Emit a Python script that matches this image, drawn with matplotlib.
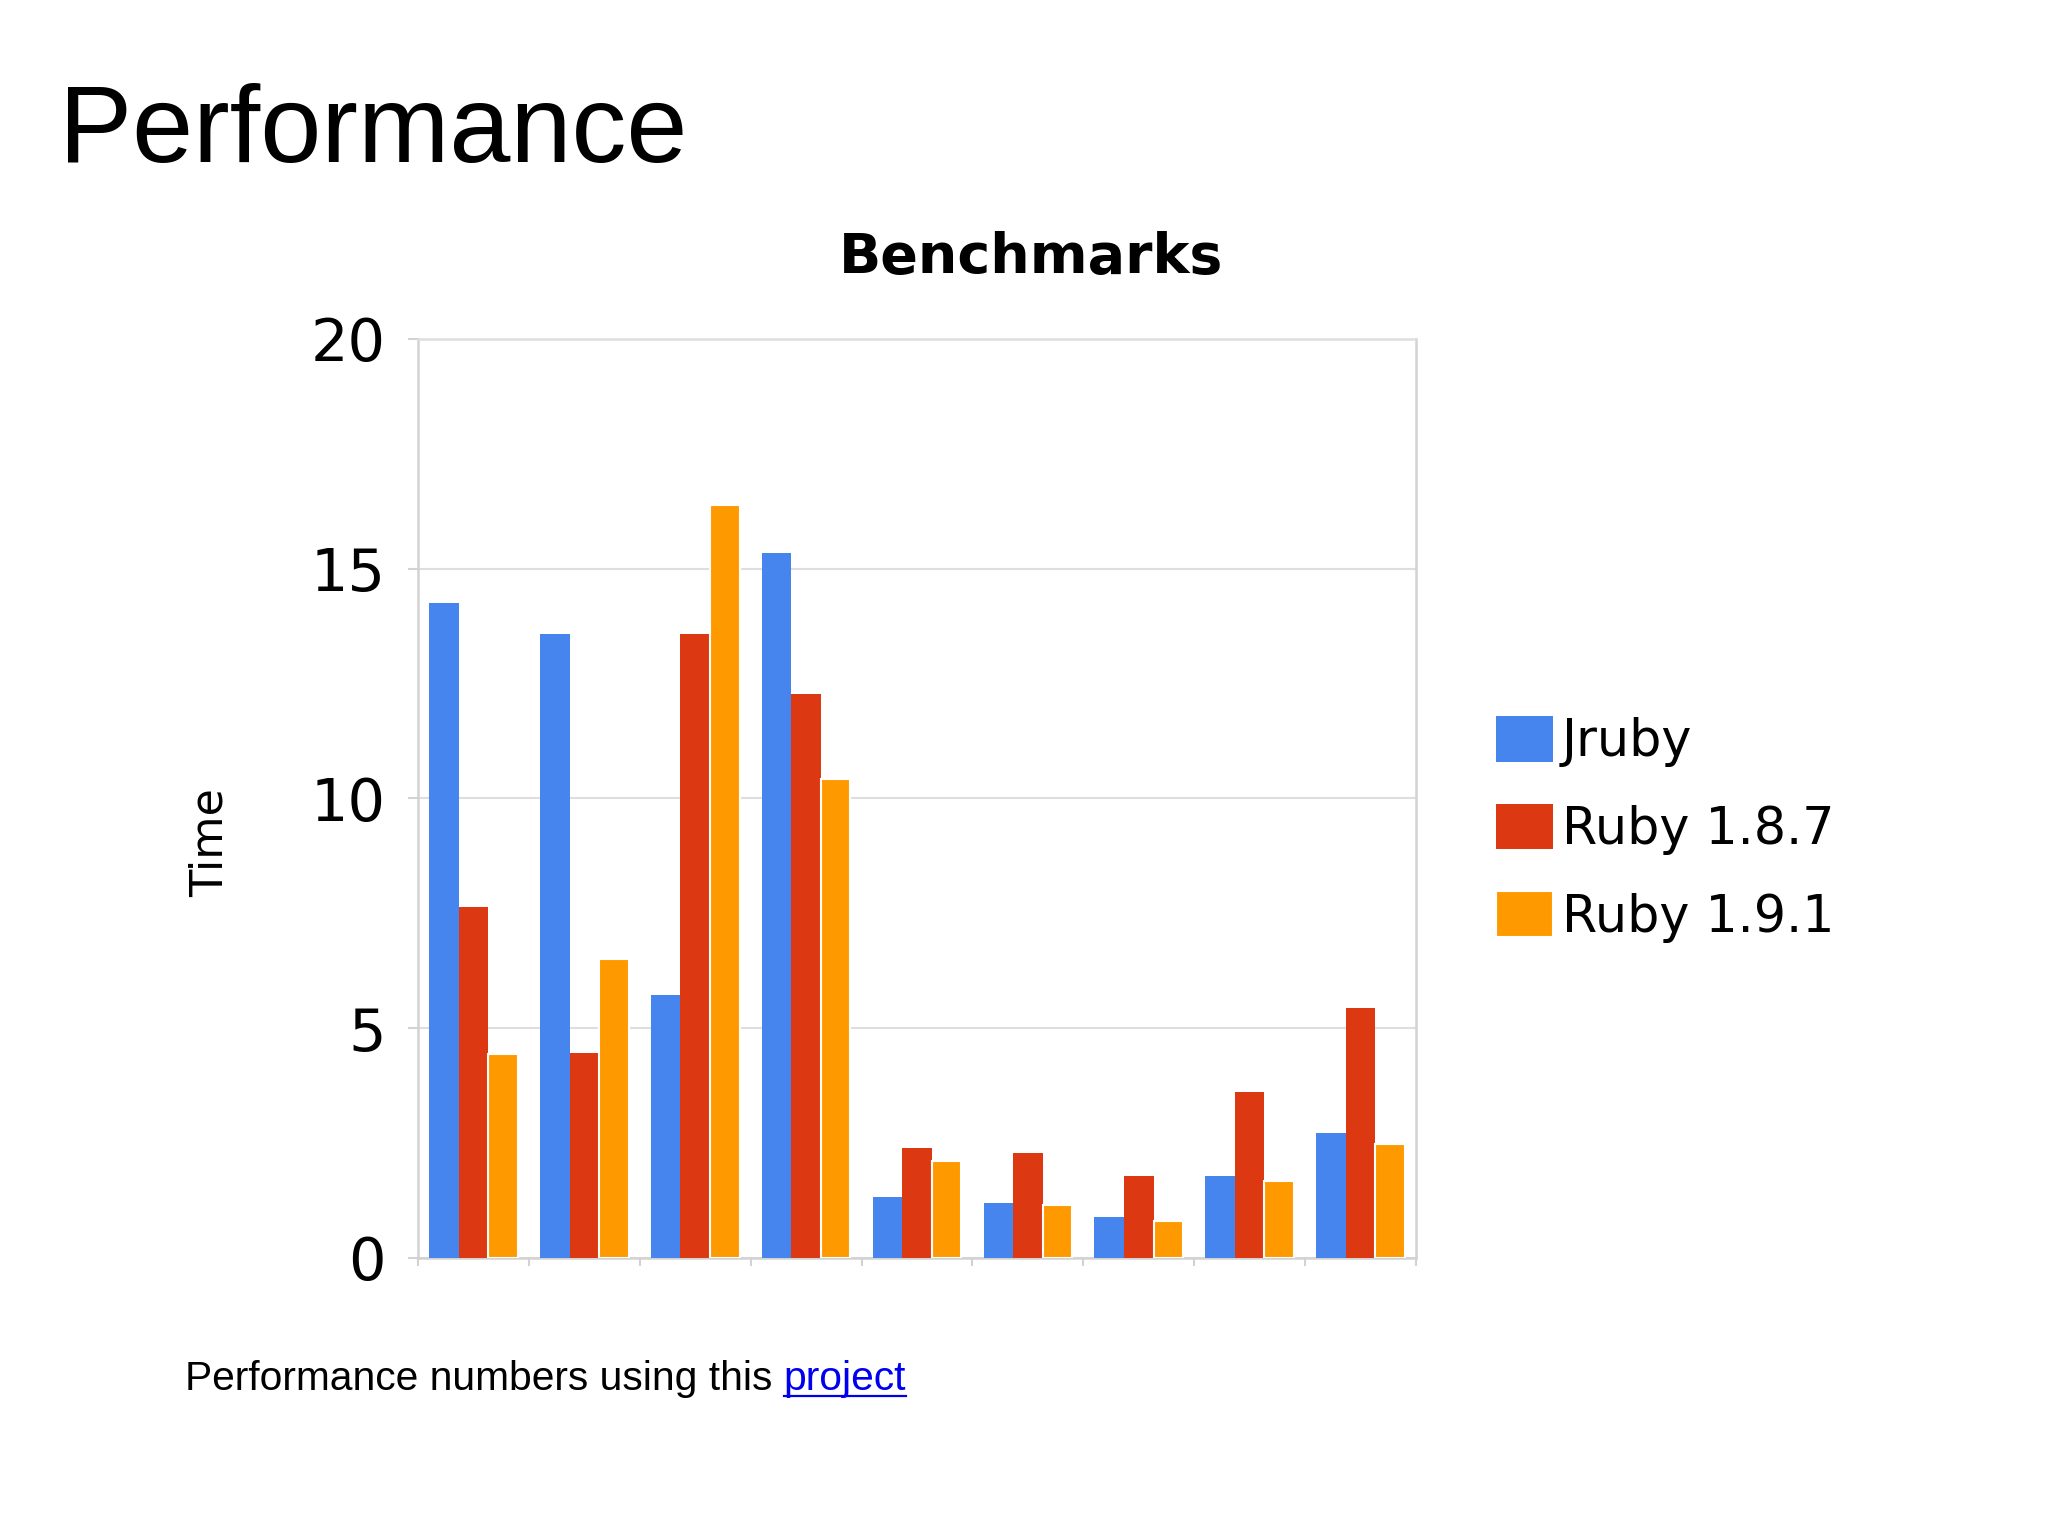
import numpy as np
import matplotlib
matplotlib.use("Agg")
import matplotlib.pyplot as plt
from matplotlib.lines import Line2D

# =====================
# 数据
# =====================

series_names = ["Jruby", "Ruby 1.8.7", "Ruby 1.9.1"]
jruby = [14.26, 13.58, 5.72, 15.35, 1.33, 1.19, 0.90, 1.79, 2.71]
ruby187 = [7.63, 4.47, 13.58, 12.28, 2.40, 2.28, 1.79, 3.61, 5.43]
ruby191 = [4.43, 6.50, 16.39, 10.43, 2.10, 1.15, 0.81, 1.67, 2.49]
y_ticks = [0, 5, 10, 15, 20]

colors = ["#4684EE", "#DC3912", "#FF9900"]

plt.rcParams['font.family'] = ['DejaVu Sans']

# =====================
# 创建图表
# =====================

fig = plt.figure(figsize=(20.48, 15.36), dpi=100)
ax = fig.add_axes([0.2041, 0.1810, 0.4873, 0.5983])

n = len(jruby)
x = np.arange(n)
bw = 0.8 / 3
handles = []
for k, (vals, c) in enumerate(zip([jruby, ruby187, ruby191], colors)):
    lw = 1.5 if k == 2 else 0
    b = ax.bar(x + 0.1 + k * bw, vals, width=bw, align='edge',
               color=c, edgecolor='white', linewidth=lw, zorder=3,
               label=series_names[k])
    handles.append(b)

ax.set_xlim(0, n)
ax.set_ylim(0, 20)
ax.set_yticks(y_ticks)
ax.set_xticks(np.arange(n + 1))
ax.set_xticklabels([])

ax.yaxis.grid(True, color='#dedede', linewidth=1.5, zorder=0)
ax.set_axisbelow(True)
for s in ax.spines.values():
    s.set_color('#d2d2d2')
    s.set_linewidth(1.8)
ax.spines['top'].set_color('#dedede')

ax.tick_params(axis='y', length=7.2, width=1.5, color='#d2d2d2',
               labelsize=42.5, pad=16)
ax.tick_params(axis='x', length=5.8, width=1.5, color='#d2d2d2')

# =====================
# 文字
# =====================

fig.text(0.5034, 0.8223, "Benchmarks", ha='center', va='baseline',
         fontsize=40, fontweight='bold')

fig.text(0.1025, 0.4512, "Time", ha='center', va='center',
         rotation=90, fontsize=32)

fig.text(0.0286, 0.8945, "Performance", ha='left', va='baseline',
         fontsize=79, family='Liberation Sans')

leg = fig.legend(handles=handles, labels=series_names,
                 loc='center left', bbox_to_anchor=(0.7305, 0.4600),
                 frameon=False, fontsize=36.5, borderpad=0,
                 borderaxespad=0, handlelength=1.12, handleheight=1.0,
                 handletextpad=0.18, labelspacing=0.72)

# 脚注 + 链接
foot = fig.text(0.0903, 0.0951, "Performance numbers using this ",
                ha='left', va='baseline', fontsize=29.3,
                family='Liberation Sans')
fig.canvas.draw()
bb = foot.get_window_extent()
W, H = fig.canvas.get_width_height()
x_link = bb.x1 / W
link = fig.text(x_link, 0.0951, "project", ha='left', va='baseline',
                fontsize=29.3, family='Liberation Sans', color='#0000EE')
fig.canvas.draw()
lb = link.get_window_extent()
yline = 0.0951 - 6 / H
fig.add_artist(Line2D([lb.x0 / W, lb.x1 / W], [yline, yline],
                      color='#0000EE', linewidth=1.6,
                      transform=fig.transFigure))

fig.savefig("out.png", dpi=100)
